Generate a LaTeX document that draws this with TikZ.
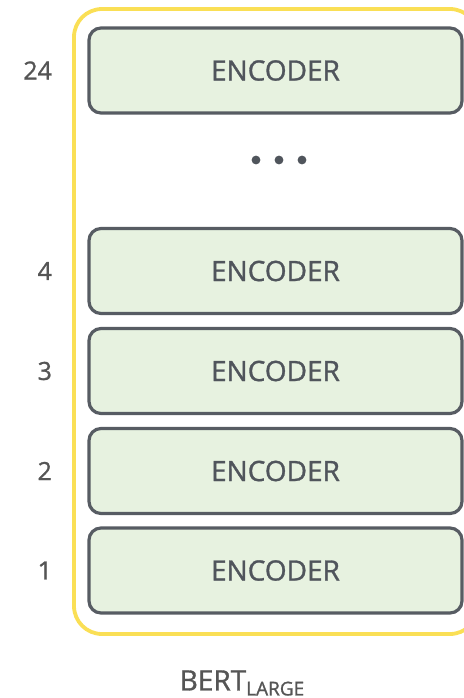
\documentclass[tikz,border=0pt]{standalone}
\usepackage{fontspec}
\setmainfont{Open Sans}[AutoFakeBold=1.1]
\usepackage{xcolor}
\definecolor{encfill}{HTML}{E7F2E0}
\definecolor{encline}{HTML}{575C63}
\definecolor{enctext}{HTML}{50555C}
\definecolor{numtext}{HTML}{555555}
\definecolor{bertyellow}{HTML}{FADF55}
\tikzset{
  encoder/.style={draw=encline,line width=1.6pt,fill=encfill,rounded corners=6pt,
    minimum width=186.5pt,minimum height=42.5pt,text=enctext,font=\fontsize{14}{16}\selectfont\bfseries},
  layernum/.style={anchor=east,text=numtext,font=\fontsize{12.5}{14}\selectfont\bfseries},
}
\begin{document}
\begin{tikzpicture}[x=0.5pt,y=-0.5pt]
\useasboundingbox (0,0) rectangle (464,698);
\clip (0,0) rectangle (464,698);
\draw[bertyellow,line width=1.9pt,rounded corners=14pt] (74,9) rectangle (478,634);

\node[encoder] (enc24) at (275.5,70.5) {ENCODER};
\node[encoder] (enc4) at (275.5,271) {ENCODER};
\node[encoder] (enc3) at (275.5,371) {ENCODER};
\node[encoder] (enc2) at (275.5,471) {ENCODER};
\node[encoder] (enc1) at (275.5,570.5) {ENCODER};

\fill[enctext] (256,160) circle (2.2pt);
\fill[enctext] (279,160) circle (2.2pt);
\fill[enctext] (302,160) circle (2.2pt);

\node[layernum] (num24) at (59,70.5) {24};
\node[layernum] (num4) at (59,271) {4};
\node[layernum] (num3) at (59,371) {3};
\node[layernum] (num2) at (59,471) {2};
\node[layernum] (num1) at (59,570.5) {1};

\node[text=numtext,font=\fontsize{14}{16}\selectfont\bfseries] (bert) at (242,683)
  {BERT\raisebox{-2.5pt}{\fontsize{9.5}{11}\selectfont\bfseries LARGE}};
\end{tikzpicture}
\end{document}
